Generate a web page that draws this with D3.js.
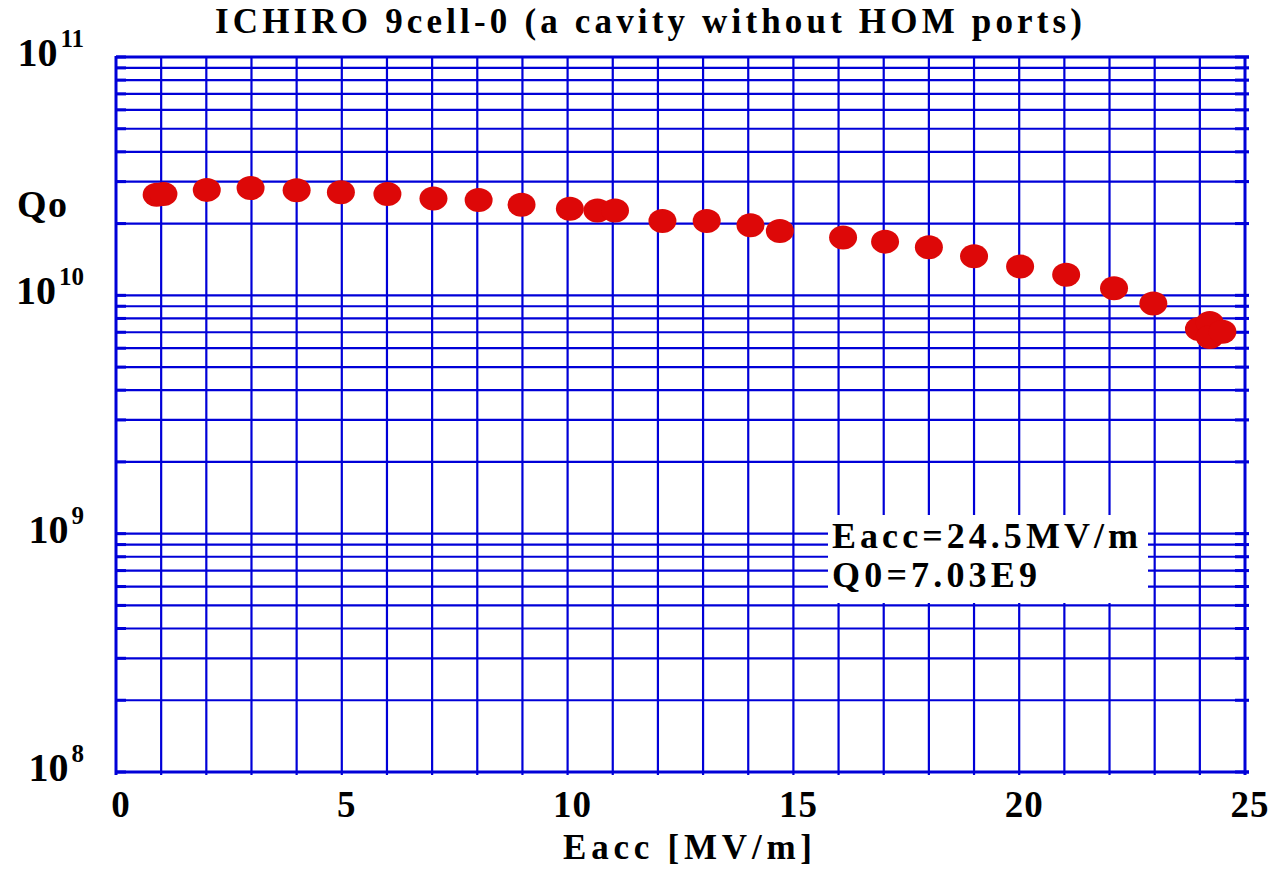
<!DOCTYPE html>
<html>
<head>
<meta charset="utf-8">
<script src="https://cdn.jsdelivr.net/npm/d3@7"></script>
<style>
  body { margin: 0; background: #fff; }
  svg text { font-family: "Liberation Serif", "Times New Roman", serif; font-weight: bold; fill: #000; }
</style>
</head>
<body>
<svg id="chart" width="1275" height="869"></svg>
<script>
// Eacc [MV/m] and Qo
const eacc = [0.9, 1.05, 2.01, 2.98, 4.0, 4.98, 6.01, 7.03, 8.03, 8.98, 10.05, 10.66, 11.05,
              12.1, 13.08, 14.05, 14.7, 16.1, 17.03, 18.0, 19.0, 20.02, 21.04, 22.1, 22.97,
              23.98, 24.22, 24.22, 24.5];
const qo = [2.64e10, 2.66e10, 2.77e10, 2.82e10, 2.76e10, 2.71e10, 2.66e10, 2.55e10, 2.51e10,
            2.40e10, 2.31e10, 2.27e10, 2.27e10, 2.05e10, 2.05e10, 1.97e10, 1.86e10, 1.75e10,
            1.68e10, 1.59e10, 1.46e10, 1.32e10, 1.22e10, 1.07e10, 9.25e9, 7.22e9, 7.65e9,
            6.68e9, 7.03e9];
const xTicks = [0, 5, 10, 15, 20, 25];
const yDecades = [8, 9, 10, 11];
const noteLines = ["Eacc=24.5MV/m", "Q0=7.03E9"];

const blue = "#0000d8";
const red = "#dd0808";

const svg = d3.select("#chart");
const pLeft = 116, pRight = 1245, pTop = 57, pBottom = 772;

const x = d3.scaleLinear().domain([0, 25]).range([pLeft, pRight]);
const y = d3.scaleLog().domain([1e8, 1e11]).range([pBottom, pTop]);

// grid: every integer on x, 1..9 x 10^n on y
const grid = svg.append("g");
const xGrid = d3.range(0, 26);
grid.selectAll(".vx").data(xGrid).join("line")
  .attr("x1", d => x(d)).attr("x2", d => x(d))
  .attr("y1", pTop - 1).attr("y2", pBottom + 3)
  .attr("stroke", blue).attr("stroke-width", d => (d === 0 || d === 25) ? 3 : 2.2);

const yGrid = [];
[8, 9, 10].forEach(p => d3.range(1, 10).forEach(m => yGrid.push(m * Math.pow(10, p))));
yGrid.push(1e11);
grid.selectAll(".hy").data(yGrid).join("line")
  .attr("x1", pLeft).attr("x2", pRight + 4)
  .attr("y1", d => y(d)).attr("y2", d => y(d))
  .attr("stroke", blue).attr("stroke-width", d => (d === 1e8 || d === 1e11) ? 3 : 2.2);

// short thick tick marks on the left and right edges
grid.selectAll(".tl").data(yGrid).join("line")
  .attr("x1", pLeft).attr("x2", pLeft + 10)
  .attr("y1", d => y(d)).attr("y2", d => y(d))
  .attr("stroke", blue).attr("stroke-width", 3);
grid.selectAll(".tr").data(yGrid).join("line")
  .attr("x1", pRight - 10).attr("x2", pRight + 4)
  .attr("y1", d => y(d)).attr("y2", d => y(d))
  .attr("stroke", blue).attr("stroke-width", 3);

// annotation box (white, covering the grid)
const note = svg.append("g");
note.append("rect").attr("x", 828).attr("y", 515).attr("width", 320).attr("height", 88).attr("fill", "#fff");

// points
svg.append("g").selectAll("ellipse").data(eacc).join("ellipse")
  .attr("cx", d => x(d))
  .attr("cy", (d, i) => y(qo[i]))
  .attr("rx", 14).attr("ry", 12)
  .attr("fill", red);

note.selectAll("text").data(noteLines).join("text")
  .attr("x", 832).attr("y", (d, i) => 548 + i * 39)
  .attr("font-size", 36)
  .attr("textLength", (d, i) => i === 0 ? 306 : 205)
  .attr("lengthAdjust", "spacing")
  .text(d => d);

// x tick labels
svg.append("g").selectAll("text").data(xTicks).join("text")
  .attr("x", d => x(d) + 5).attr("y", 817)
  .attr("text-anchor", "middle").attr("font-size", 37)
  .attr("letter-spacing", 1)
  .text(d => d);

// y tick labels 10^n
const yl = svg.append("g").selectAll("text").data(yDecades).join("text")
  .attr("x", 84).attr("y", d => y(Math.pow(10, d)) + 9)
  .attr("text-anchor", "end").attr("font-size", 40);
yl.append("tspan").text("10");
yl.append("tspan").attr("dy", -19).attr("font-size", 25).attr("dx", 3).text(d => d);

// titles
svg.append("text").attr("x", 215).attr("y", 33).attr("font-size", 35)
  .attr("textLength", 867).attr("lengthAdjust", "spacing")
  .text("ICHIRO 9cell-0 (a cavity without HOM ports)");
svg.append("text").attr("x", 563).attr("y", 859).attr("font-size", 35)
  .attr("textLength", 249).attr("lengthAdjust", "spacing")
  .text("Eacc [MV/m]");
svg.append("text").attr("x", 17).attr("y", 217).attr("font-size", 38)
  .attr("textLength", 50).attr("lengthAdjust", "spacing")
  .text("Qo");
</script>
</body>
</html>
